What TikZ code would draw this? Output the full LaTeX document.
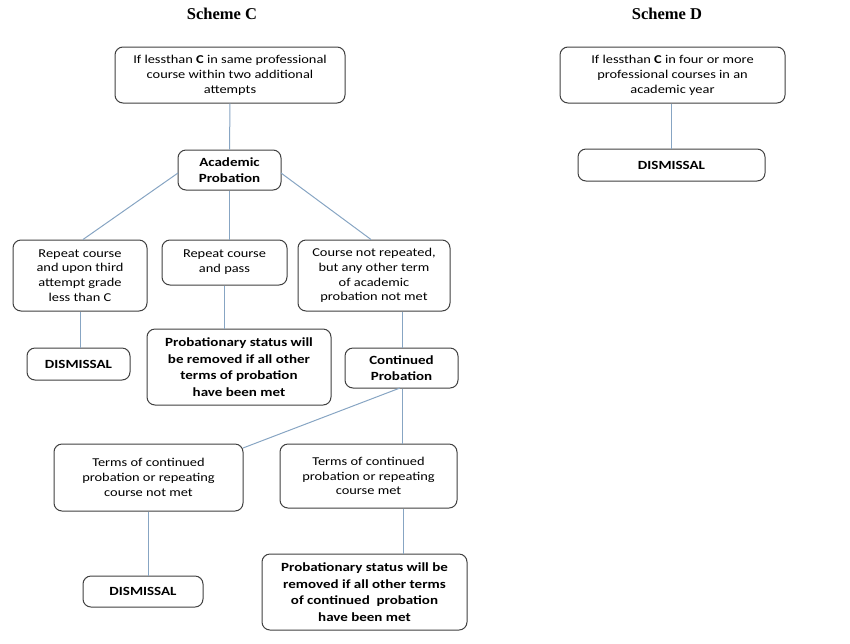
\documentclass[tikz,border=0pt]{standalone}
\usepackage{fontspec}
\setmainfont{Carlito}[FakeStretch=1.2]
\newfontfamily\titlefont{Liberation Serif}
\begin{document}
\begin{tikzpicture}[x=1pt,y=-1pt,
  box/.style={draw=black!75, line width=1pt, rounded corners=8pt, fill=white, align=center, inner sep=0pt, font=\fontsize{12}{14.8}\selectfont},
  bbox/.style={box, font=\fontsize{12.5}{16.5}\selectfont\bfseries},
  link/.style={draw={rgb,255:red,135;green,165;blue,195}, line width=1pt},
  ttl/.style={font=\titlefont\bfseries\fontsize{16.5}{18}\selectfont}]
\useasboundingbox (0,0) rectangle (850,643);
\node[ttl] (tc) at (222,14) {Scheme C};
\node[ttl] (td) at (667,14) {Scheme D};

\node[box, minimum width=230, minimum height=56] (top) at (230,75) {If lessthan \textbf{C} in same professional\\course within two additional\\attempts};
\node[bbox, minimum width=103, minimum height=40] (ap) at (229.5,170) {Academic\\Probation};
\node[box, minimum width=134, minimum height=71] (r1) at (80,275.5) {Repeat course\\and upon third\\attempt grade\\less than C};
\node[box, minimum width=125, minimum height=45] (r2) at (224.5,262.5) {Repeat course\\and pass};
\node[box, minimum width=152, minimum height=71] (r3) at (374,275.5) {Course not repeated,\\but any other term\\of academic\\probation not met};
\node[bbox, minimum width=103, minimum height=32] (d1) at (78.5,364) {DISMISSAL};
\node[bbox, minimum width=184, minimum height=76] (p1) at (239,367) {Probationary status will\\be removed if all other\\terms of probation\\have been met};
\node[bbox, minimum width=113, minimum height=40] (cp) at (401.5,368) {Continued\\Probation};
\node[box, minimum width=189, minimum height=67] (t1) at (148.5,477.5) {Terms of continued\\probation or repeating\\course not met};
\node[box, minimum width=177, minimum height=64] (t2) at (368.5,476) {Terms of continued\\probation or repeating\\course met};
\node[bbox, minimum width=120, minimum height=31] (d2) at (143,591.5) {DISMISSAL};
\node[bbox, minimum width=205, minimum height=76] (p2) at (364.5,592) {Probationary status will be\\removed if all other terms\\of continued\ \ probation\\have been met};

\node[box, minimum width=225, minimum height=56] (dtop) at (672.5,75) {If lessthan \textbf{C} in four or more\\professional courses in an\\academic year};
\node[bbox, minimum width=187, minimum height=32] (d3) at (671.5,165) {DISMISSAL};

\coordinate (apl) at (178,173);
\coordinate (apr) at (281,173);
\coordinate (cpb) at (400,388);
\coordinate (t1c) at (243,448);

\draw[link] (top.south) -- (ap.north);
\draw[link] (apl) -- (r1.north -| 83,0);
\draw[link] (ap.south) -- (r2.north -| ap.south);
\draw[link] (apr) -- (r3.north -| 371,0);
\draw[link] (r1.south -| 80,0) -- (d1.north -| 80,0);
\draw[link] (r2.south) -- (p1.north -| r2.south);
\draw[link] (r3.south -| 402,0) -- (cp.north -| 402,0);
\draw[link] (cpb) -- (t1c);
\draw[link] (cp.south -| 402,0) -- (t2.north -| 402,0);
\draw[link] (t1.south) -- (d2.north -| t1.south);
\draw[link] (t2.south -| 403,0) -- (p2.north -| 403,0);
\draw[link] (dtop.south -| 671,0) -- (d3.north -| 671,0);
\end{tikzpicture}
\end{document}
